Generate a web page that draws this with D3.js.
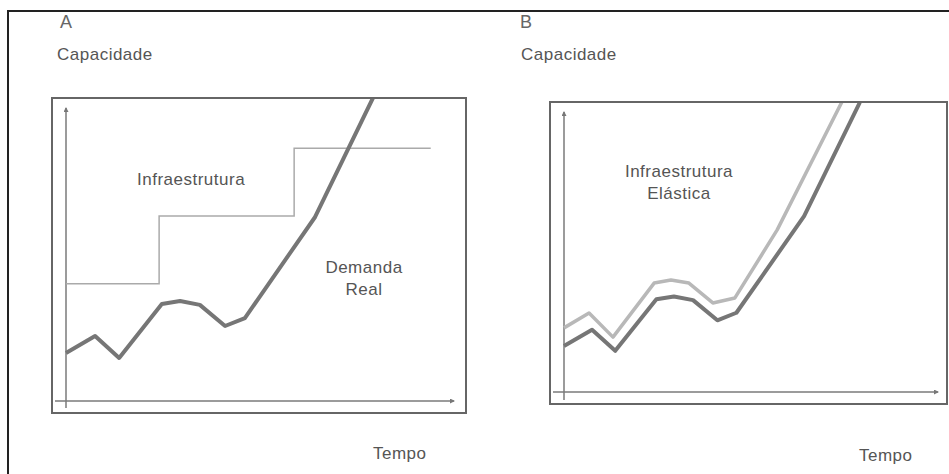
<!DOCTYPE html>
<html>
<head>
<meta charset="utf-8">
<script src="https://cdn.jsdelivr.net/npm/d3@7"></script>
<style>
  body { margin: 0; background: #fff; }
  text { font-family: "Liberation Sans", Arial, sans-serif; fill: #555; letter-spacing: 0.5px; }
</style>
</head>
<body>
<div id="wrapper"></div>
<script>
// values (time 0-100, capacity 0-100 on each panel's axes)
const demandTime = [0, 7.5, 13.7, 24.7, 29.4, 34.5, 41, 46.1, 64.2, 79.1]
const demandCapacity = [16.4, 22.2, 14.7, 33.1, 34.1, 32.8, 25.6, 28.3, 62.8, 103.4]
const stepTime = [0, 24, 58.8, 94]
const stepCapacity = [40, 63.1, 86.3, 86.3]
const elasticTime = [0, 6.7, 13.1, 24.1, 28.6, 33.4, 39.8, 45.7, 57.0, 74.3]
const elasticCapacity = [22.9, 28.2, 19.6, 38.9, 40.0, 38.9, 31.8, 33.6, 57.9, 103.6]

const zip = (xs, ys) => xs.map((x, i) => ({t: x, c: ys[i]}))
const demand = zip(demandTime, demandCapacity)
const steps = zip(stepTime, stepCapacity)
const elastic = zip(elasticTime, elasticCapacity)

const width = 949
const height = 474

const svg = d3.select("#wrapper")
  .append("svg")
    .attr("width", width)
    .attr("height", height)

const defs = svg.append("defs")
defs.append("marker")
    .attr("id", "arrow")
    .attr("viewBox", "0 0 10 10")
    .attr("refX", 8)
    .attr("refY", 5)
    .attr("markerWidth", 5)
    .attr("markerHeight", 5)
    .attr("markerUnits", "userSpaceOnUse")
    .attr("orient", "auto")
  .append("path")
    .attr("d", "M0,0 L10,5 L0,10 Z")
    .attr("fill", "#777")

// outer frame of the scan
svg.append("path")
    .attr("d", "M8,474 V11 H949")
    .attr("fill", "none")
    .attr("stroke", "#222")
    .attr("stroke-width", 2)

function drawPanel(p) {
  const g = svg.append("g")

  const x = d3.scaleLinear().domain([0, 100]).range([p.x0, p.x1])
  const y = d3.scaleLinear().domain([0, 100]).range([p.y0, p.y1])

  g.append("text").attr("x", p.letterX).attr("y", 28)
      .style("font-size", "18px").style("fill", "#666").text(p.letter)
  g.append("text").attr("x", p.capX).attr("y", 60)
      .style("font-size", "17px").text("Capacidade")

  defs.append("clipPath").attr("id", "clip-" + p.letter)
    .append("rect")
      .attr("x", p.box.x).attr("y", p.box.y)
      .attr("width", p.box.w).attr("height", p.box.h)

  // axes
  g.append("line")
      .attr("x1", x(0)).attr("x2", x(0))
      .attr("y1", p.yAxisBottom).attr("y2", y(100))
      .attr("stroke", "#7a7a7a").attr("stroke-width", 1.5)
      .attr("marker-end", "url(#arrow)")
  g.append("line")
      .attr("x1", p.xAxisLeft).attr("x2", x(100))
      .attr("y1", y(0)).attr("y2", y(0))
      .attr("stroke", "#7a7a7a").attr("stroke-width", 1.5)
      .attr("marker-end", "url(#arrow)")

  const line = d3.line().x(d => x(d.t)).y(d => y(d.c))
  const lines = g.append("g").attr("clip-path", `url(#clip-${p.letter})`)

  if (p.steps) {
    lines.append("path")
        .attr("d", line.curve(d3.curveStepAfter)(p.steps))
        .attr("fill", "none")
        .attr("stroke", "#aaa")
        .attr("stroke-width", 1.5)
    line.curve(d3.curveLinear)
  }
  if (p.elastic) {
    lines.append("path")
        .attr("d", line(p.elastic))
        .attr("fill", "none")
        .attr("stroke", "#b8b8b8")
        .attr("stroke-width", 3.5)
        .attr("stroke-linejoin", "round")
  }
  lines.append("path")
      .attr("d", line(demand))
      .attr("fill", "none")
      .attr("stroke", "#767676")
      .attr("stroke-width", 4)
      .attr("stroke-linejoin", "round")

  // inner box
  g.append("rect")
      .attr("x", p.box.x).attr("y", p.box.y)
      .attr("width", p.box.w).attr("height", p.box.h)
      .attr("fill", "none")
      .attr("stroke", "#666")
      .attr("stroke-width", 2)

  p.labels.forEach(l => {
    g.append("text")
        .attr("x", l.x).attr("y", l.y)
        .attr("text-anchor", l.anchor || "start")
        .style("font-size", "17px")
        .text(l.text)
  })
}

drawPanel({
  letter: "A", letterX: 60, capX: 57,
  x0: 66, x1: 454, y0: 401, y1: 108,
  xAxisLeft: 55, yAxisBottom: 408,
  box: {x: 52, y: 98, w: 414, h: 315},
  steps: steps,
  labels: [
    {x: 137, y: 185, text: "Infraestrutura"},
    {x: 364, y: 273, text: "Demanda", anchor: "middle"},
    {x: 364, y: 295, text: "Real", anchor: "middle"},
    {x: 373, y: 459, text: "Tempo"}
  ]
})

drawPanel({
  letter: "B", letterX: 520, capX: 521,
  x0: 564, x1: 938, y0: 392, y1: 112,
  xAxisLeft: 553, yAxisBottom: 400,
  box: {x: 550, y: 102, w: 397, h: 302},
  elastic: elastic,
  labels: [
    {x: 679, y: 177, text: "Infraestrutura", anchor: "middle"},
    {x: 679, y: 199, text: "Elástica", anchor: "middle"},
    {x: 859, y: 461, text: "Tempo"}
  ]
})
</script>
</body>
</html>
